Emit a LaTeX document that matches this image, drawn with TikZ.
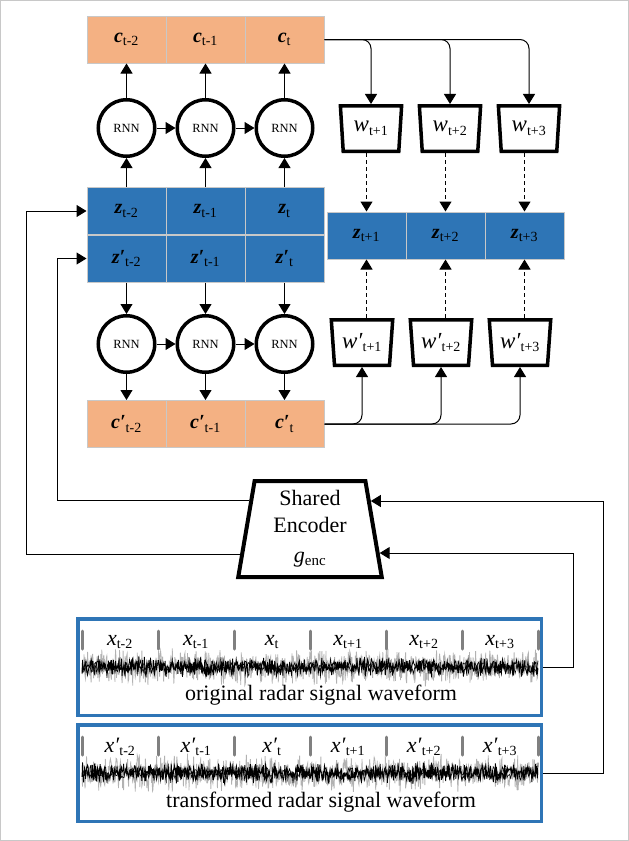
\documentclass[tikz,border=0pt]{standalone}
\usepackage{fontspec}
\setmainfont{Liberation Serif}
\usetikzlibrary{arrows.meta,shapes.geometric,calc}

\definecolor{cellorange}{HTML}{F4B183}
\definecolor{cellblue}{HTML}{2E75B6}
\definecolor{gridgray}{HTML}{C8C8C8}

\newcommand{\subtxt}[1]{\textsubscript{\fontsize{14}{14}\selectfont #1}}
\newcommand{\vlab}[2]{\textbf{\textit{#1}}\subtxt{#2}}
\newcommand{\vplab}[2]{\textbf{\textit{#1′}}\subtxt{#2}}
\newcommand{\ilab}[2]{\textit{#1}\subtxt{#2}}
\newcommand{\iplab}[2]{\textit{#1′}\subtxt{#2}}

\tikzset{
  cell/.style={draw=gridgray, line width=1pt, minimum width=79pt, minimum height=47pt,
    inner sep=0pt, font=\fontsize{20}{22}\selectfont},
  ccell/.style={cell, fill=cellorange},
  zcell/.style={cell, fill=cellblue},
  rnn/.style={circle, draw, line width=3.5pt, minimum size=56.5pt, inner sep=0pt,
    font=\fontsize{12.5}{14}\selectfont},
  wbox/.style={trapezium, trapezium stretches=true, trapezium angle=97, minimum width=61.5pt,
    minimum height=45.5pt, draw, line width=3.5pt, inner sep=0pt, font=\fontsize{23}{24}\selectfont},
  encbox/.style={trapezium, trapezium stretches=true, trapezium angle=82, minimum width=144pt,
    minimum height=96pt, draw, line width=4pt, inner sep=0pt, align=center,
    font=\fontsize{22}{27}\selectfont},
  arr/.style={-{Triangle[width=12pt,length=10pt]}, line width=1pt},
  darr/.style={arr, dash pattern=on 4pt off 3pt},
  wave/.style={draw=cellblue, line width=3.5pt, minimum width=463.5pt, minimum height=96.5pt, inner sep=0pt},
  tick/.style={draw=gray, line width=3pt, line cap=round},
  xlab/.style={inner sep=0pt, font=\fontsize{22}{24}\selectfont},
  captxt/.style={inner sep=0pt, font=\fontsize{22}{24}\selectfont},
}

\begin{document}
\begin{tikzpicture}[x=1pt,y=-1pt]
  \useasboundingbox (0,0) rectangle (629,841);
  \draw[gridgray, line width=1pt] (0.5,0.5) rectangle (628.5,840.5);

  % context rows and recurrent cells
  \foreach \i/\s in {1/t-2,2/t-1,3/t} {
    \node[ccell] (c\i) at ({47.5+79*\i},39.5) {\vlab{c}{\s}};
    \node[rnn] (r\i) at ({47.5+79*\i},128) {RNN};
    \node[zcell] (z\i) at ({47.5+79*\i},211) {\vlab{z}{\s}};
    \node[zcell] (zp\i) at ({47.5+79*\i},258.5) {\vplab{z}{\s}};
    \node[rnn] (rp\i) at ({47.5+79*\i},344) {RNN};
    \node[ccell] (cp\i) at ({47.5+79*\i},424) {\vplab{c}{\s}};
  }
  \foreach \i/\s in {1/t+1,2/t+2,3/t+3} {
    \node[zcell] (zf\i) at ({287.5+79*\i},235.5) {\vlab{z}{\s}};
    \node[wbox] (w\i) at ({292+79*\i},128.5) {\ilab{w}{\s}};
    \node[wbox] (wp\i) at ({283+79*\i},342.5) {\iplab{w}{\s}};
  }

  \foreach \i in {1,2,3} {
    \draw[arr] (z\i) -- (r\i);
    \draw[arr] (r\i) -- (c\i);
    \draw[arr] (zp\i) -- (rp\i);
    \draw[arr] (rp\i) -- (cp\i);
    \draw[arr, rounded corners=9pt] (c3.east) -| (w\i.north);
    \draw[darr] (zf\i.north |- w\i.south) -- (zf\i.north);
    \draw[arr, rounded corners=9pt] (cp3.east) -| (wp\i.south);
    \draw[darr] (zf\i.south |- wp\i.north) -- (zf\i.south);
  }
  \draw[arr] (r1) -- (r2);
  \draw[arr] (r2) -- (r3);
  \draw[arr] (rp1) -- (rp2);
  \draw[arr] (rp2) -- (rp3);

  % encoder
  \node[encbox] (enc) at (310,529) {Shared\\Encoder\\[3pt]\textit{g}\textsubscript{\fontsize{15}{15}\selectfont enc}};
  \coordinate (eL1) at ($(enc.top left corner)!0.21!(enc.bottom left corner)$);
  \coordinate (eL2) at ($(enc.top left corner)!0.75!(enc.bottom left corner)$);
  \coordinate (eR1) at ($(enc.top right corner)!0.22!(enc.bottom right corner)$);
  \coordinate (eR2) at ($(enc.top right corner)!0.74!(enc.bottom right corner)$);
  \draw[arr] (eL1) -| ([xshift=-29pt]zp1.west) -- (zp1.west);
  \draw[arr] (eL2) -| ([xshift=-60pt]z1.west) -- (z1.west);

  % waveforms
  \node[wave] (orig) at (309.5,667) {};
  \node[wave] (trans) at (309.5,773) {};
  \pgfmathsetseed{42}
  \foreach \yc in {667,773} {
    \draw[gray!60, line width=0.8pt] plot[domain=82:538, samples=900] (\x,{\yc+10*(rand+rand)});
    \draw[black, line width=0.8pt] plot[domain=82:538, samples=900] (\x,{\yc+5.5*(rand+rand)});
    \draw[black, line width=0.6pt] plot[domain=82:538, samples=500] (\x,{\yc+4*(rand+rand)});
  }
  \foreach \k in {0,...,6} {
    \draw[tick] ({82+76*\k},631) -- ++(0,18);
    \draw[tick] ({82+76*\k},737) -- ++(0,18);
  }
  \foreach \i/\s in {1/t-2,2/t-1,3/t,4/t+1,5/t+2,6/t+3} {
    \node[xlab] (x\i) at ({44+76*\i},642) {\ilab{x}{\s}};
    \node[xlab] (xp\i) at ({44+76*\i},747) {\iplab{x}{\s}};
  }
  \node[captxt] (origcap) at (321,695) {original radar signal waveform};
  \node[captxt] (transcap) at (321,802) {transformed radar signal waveform};

  \draw[arr] (orig.east) -- ++(30,0) |- (eR2);
  \draw[arr] (trans.east) -- ++(60,0) |- (eR1);
\end{tikzpicture}
\end{document}
